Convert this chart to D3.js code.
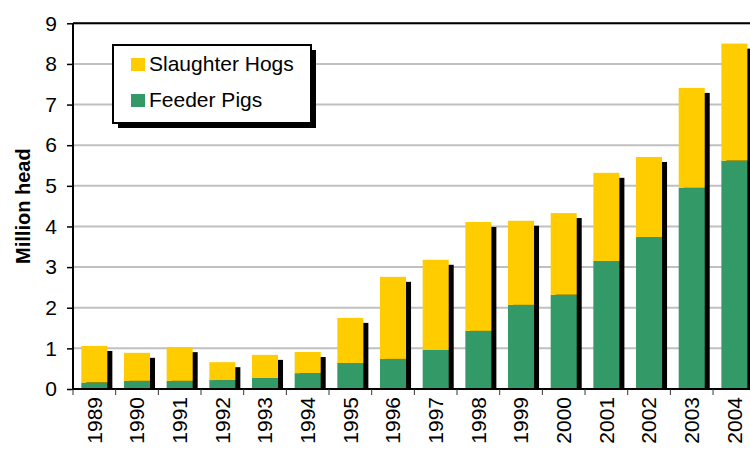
<!DOCTYPE html>
<html>
<head>
<meta charset="utf-8">
<script src="https://cdn.jsdelivr.net/npm/d3@7/dist/d3.min.js"></script>
<style>
  html, body { margin: 0; padding: 0; background: #fff; }
  svg { display: block; font-family: Arial, "Liberation Sans", sans-serif; }
</style>
</head>
<body>
<svg id="chart" width="750" height="449"></svg>
<script>
const years = ["1989","1990","1991","1992","1993","1994","1995","1996","1997","1998","1999","2000","2001","2002","2003","2004"];
const feederPigs = [0.16, 0.20, 0.20, 0.22, 0.27, 0.39, 0.64, 0.74, 0.96, 1.43, 2.07, 2.32, 3.15, 3.74, 4.95, 5.62];
const totals =     [1.06, 0.89, 1.03, 0.66, 0.84, 0.91, 1.75, 2.76, 3.18, 4.11, 4.14, 4.33, 5.32, 5.71, 7.41, 8.50];
const slaughterHogs = totals.map((t, i) => +(t - feederPigs[i]).toFixed(2));
const yTicks = [0,1,2,3,4,5,6,7,8,9];
const seriesNames = ["Slaughter Hogs", "Feeder Pigs"];
const colors = { "Feeder Pigs": "#339966", "Slaughter Hogs": "#FFCC00" };

(function () {
const svg = d3.select("#chart");
const pLeft = 73, pTop = 23.3, pBottom = 389;
const step = 42.67;
const pRight = pLeft + step * years.length;
const fs = 21;

const x = d3.scaleBand().domain(years).range([pLeft, pRight]).paddingInner(0.39).paddingOuter(0.195);
const y = d3.scaleLinear().domain([0, 9]).range([pBottom, pTop]);

svg.append("defs").append("clipPath").attr("id", "plot")
  .append("rect").attr("x", pLeft).attr("y", pTop).attr("width", pRight - pLeft).attr("height", pBottom - pTop);

// gridlines
svg.append("g").selectAll("line").data(yTicks.slice(1)).join("line")
  .attr("x1", pLeft).attr("x2", pRight)
  .attr("y1", d => y(d)).attr("y2", d => y(d))
  .attr("stroke", "#c0c0c0").attr("stroke-width", 2);

// shadows
const sh = 5;
svg.append("g").attr("clip-path", "url(#plot)").selectAll("rect").data(years).join("rect")
  .attr("x", d => x(d) + sh)
  .attr("y", (d, i) => y(totals[i]) + sh)
  .attr("width", x.bandwidth())
  .attr("height", (d, i) => pBottom - y(totals[i]))
  .attr("fill", "#000");

// stacked bars
const rows = years.map((yr, i) => ({ year: yr, "Feeder Pigs": feederPigs[i], "Slaughter Hogs": slaughterHogs[i] }));
const stack = d3.stack().keys(["Feeder Pigs", "Slaughter Hogs"])(rows);
svg.append("g").selectAll("g").data(stack).join("g")
  .attr("fill", s => colors[s.key])
  .selectAll("rect").data(s => s).join("rect")
  .attr("x", d => x(d.data.year))
  .attr("y", d => y(d[1]))
  .attr("width", x.bandwidth())
  .attr("height", d => y(d[0]) - y(d[1]));

// top border
svg.append("line").attr("x1", pLeft).attr("x2", pRight).attr("y1", pTop).attr("y2", pTop)
  .attr("stroke", "#000").attr("stroke-width", 2);

// y axis
const yAxis = d3.axisLeft(y).tickValues(yTicks).tickSize(6).tickPadding(10).tickFormat(d3.format("d"));
const gy = svg.append("g").attr("transform", `translate(${pLeft},0)`).call(yAxis);
gy.select(".domain").attr("stroke", "#000").attr("stroke-width", 2).attr("d", `M0,${pTop}V${pBottom}`);
gy.selectAll(".tick line").attr("stroke", "#000").attr("stroke-width", 1.5);
gy.selectAll(".tick text").attr("font-size", fs).attr("fill", "#000").attr("font-family", "Arial, 'Liberation Sans', sans-serif");

// x axis
const xAxis = d3.axisBottom(x).tickSize(0).tickPadding(0);
const gx = svg.append("g").attr("transform", `translate(0,${pBottom})`).call(xAxis);
gx.select(".domain").attr("stroke", "#000").attr("stroke-width", 2).attr("d", `M${pLeft},0H${pRight}`);
gx.selectAll(".tick text")
  .attr("font-size", fs).attr("fill", "#000").attr("font-family", "Arial, 'Liberation Sans', sans-serif")
  .attr("transform", "rotate(-90)")
  .attr("text-anchor", "end")
  .attr("dx", "-8")
  .attr("dy", "0.35em")
  .attr("x", 0).attr("y", 0);
svg.append("g").selectAll("line").data(d3.range(years.length + 1)).join("line")
  .attr("x1", i => pLeft + i * x.step()).attr("x2", i => pLeft + i * x.step())
  .attr("y1", pBottom).attr("y2", pBottom + 6)
  .attr("stroke", "#333").attr("stroke-width", 1);

// y title
svg.append("text")
  .attr("transform", `translate(30,${(pTop + pBottom) / 2}) rotate(-90)`)
  .attr("text-anchor", "middle")
  .attr("font-size", 20).attr("font-weight", "bold")
  .text("Million head");

// legend
const lg = svg.append("g");
lg.append("rect").attr("x", 118).attr("y", 50).attr("width", 198).attr("height", 78).attr("fill", "#000");
lg.append("rect").attr("x", 113).attr("y", 45).attr("width", 198).attr("height", 78)
  .attr("fill", "#fff").attr("stroke", "#000").attr("stroke-width", 2);
seriesNames.forEach((name, i) => {
  lg.append("rect").attr("x", 131).attr("y", 58 + i * 36).attr("width", 14).attr("height", 13).attr("fill", colors[name]);
  lg.append("text").attr("x", 149).attr("y", 71 + i * 36).attr("font-size", fs).text(name);
});
})();
</script>
</body>
</html>
